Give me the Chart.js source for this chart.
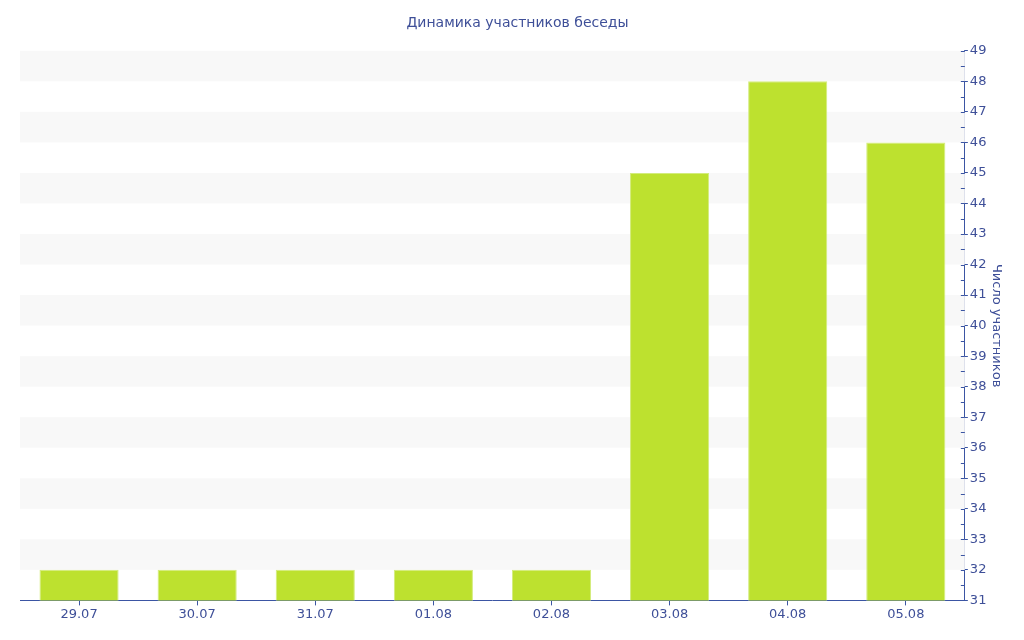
<!DOCTYPE html>
<html>
<head>
<meta charset="utf-8">
<script src="https://cdn.jsdelivr.net/npm/chart.js@4/dist/chart.umd.min.js"></script>
<style>
  html, body { margin: 0; padding: 0; background: #fff; }
  #wrap { width: 1024px; height: 640px; }
</style>
</head>
<body>
<div id="wrap"><canvas id="myChart"></canvas></div>
<script>
// data
const days = ['29.07', '30.07', '31.07', '01.08', '02.08', '03.08', '04.08', '05.08'];
const members = [32, 32, 32, 32, 32, 45, 48, 46];
const yMin = 31;
const yMax = 49;

const blue = '#3b55a3';
const textBlue = '#3e4f98';

// alternating light bands behind the bars
const bands = {
  id: 'bands',
  beforeDatasetsDraw(chart) {
    const ctx = chart.ctx, a = chart.chartArea, y = chart.scales.y;
    ctx.save();
    ctx.fillStyle = '#f8f8f8';
    for (let v = yMax - 1; v >= yMin; v -= 2) {
      const top = y.getPixelForValue(v + 1);
      const bot = y.getPixelForValue(v);
      ctx.fillRect(a.left, top, a.right - a.left, bot - top);
    }
    ctx.restore();
  }
};

// short tick marks on the inner side of the right axis, every half step
const innerTicks = {
  id: 'innerTicks',
  afterDraw(chart) {
    const ctx = chart.ctx, y = chart.scales.y;
    const x = y.left;
    ctx.save();
    ctx.strokeStyle = blue;
    ctx.lineWidth = 1;
    ctx.beginPath();
    for (let v = yMin; v <= yMax; v += 0.5) {
      const py = Math.round(y.getPixelForValue(v)) + 0.5;
      ctx.moveTo(x - 4, py);
      ctx.lineTo(x, py);
    }
    ctx.stroke();
    ctx.restore();
  }
};

Chart.defaults.font.family = '"DejaVu Sans", Verdana, sans-serif';
Chart.defaults.color = textBlue;

const ctx = document.getElementById('myChart');
new Chart(ctx, {
  type: 'bar',
  data: {
    labels: days,
    datasets: [{
      label: 'Число участников',
      data: members,
      backgroundColor: '#bde12f',
      borderColor: '#d3ec7c',
      borderWidth: 1,
      categoryPercentage: 0.67,
      barPercentage: 1
    }]
  },
  options: {
    responsive: true,
    maintainAspectRatio: false,
    animation: false,
    layout: { padding: { left: 20, right: 9, top: 0, bottom: 17 } },
    plugins: {
      legend: { display: false },
      tooltip: { enabled: false },
      title: {
        display: true,
        text: 'Динамика участников беседы',
        color: textBlue,
        font: { size: 14, weight: 'normal' },
        padding: { top: 15, bottom: 19 }
      }
    },
    scales: {
      x: {
        grid: { display: true, drawOnChartArea: false, offset: false, color: blue, tickLength: 5 },
        border: { color: blue, width: 1 },
        ticks: { font: { size: 13 }, color: textBlue, padding: 1 }
      },
      y: {
        position: 'right',
        min: yMin,
        max: yMax,
        grid: {
          drawOnChartArea: false,
          tickLength: 3,
          tickColor: (c) => Number.isInteger(c.tick.value) ? blue : 'rgba(0,0,0,0)'
        },
        border: { color: blue, width: 1 },
        ticks: {
          stepSize: 0.5,
          autoSkip: false,
          font: { size: 13 },
          color: textBlue,
          padding: 2,
          callback: (v) => Number.isInteger(v) ? v : ''
        },
        title: {
          display: true,
          text: 'Число участников',
          color: textBlue,
          font: { size: 13 },
          padding: { top: 11, bottom: 0 }
        }
      }
    }
  },
  plugins: [bands, innerTicks]
});
</script>
</body>
</html>
